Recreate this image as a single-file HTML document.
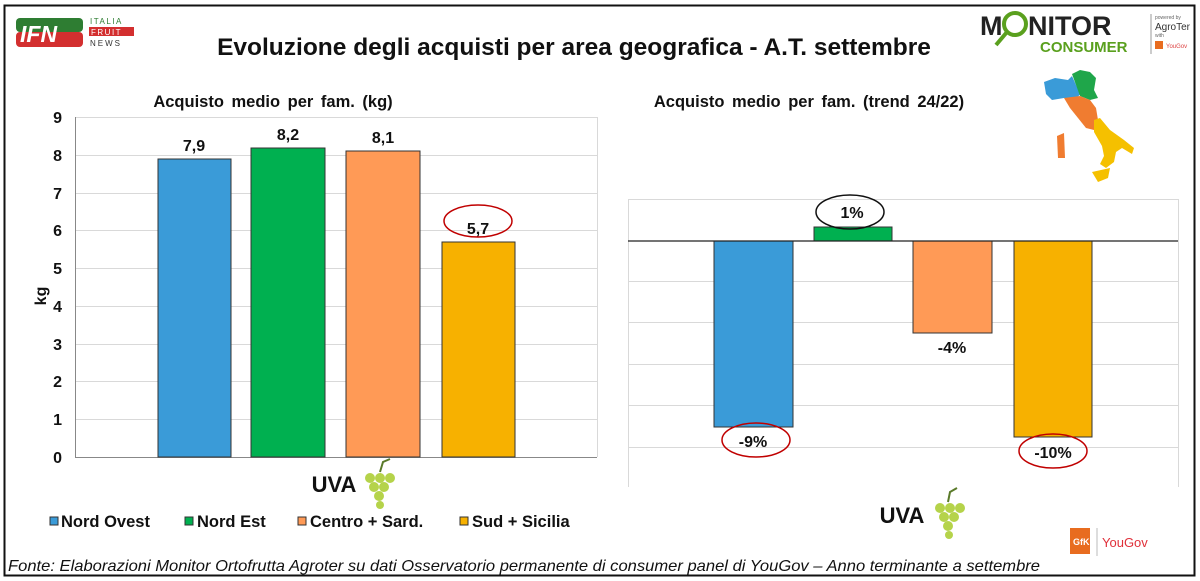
<!DOCTYPE html>
<html><head><meta charset="utf-8"><style>
html,body{margin:0;padding:0;background:#fff;}
svg{display:block;font-family:"Liberation Sans",Arial,sans-serif;}
</style></head><body>
<svg width="1200" height="581" viewBox="0 0 1200 581" xmlns="http://www.w3.org/2000/svg">
<rect x="0" y="0" width="1200" height="581" fill="#fff"/>
<rect x="4.5" y="5.5" width="1190" height="570" fill="none" stroke="#111" stroke-width="2"/>
<!-- IFN logo -->
<rect x="16" y="18" width="67" height="14" rx="4" fill="#2e7d32"/>
<rect x="16" y="32" width="67" height="15" rx="4" fill="#d32f2f"/>
<text x="20" y="42" font-size="23" font-weight="bold" fill="#fff" font-style="italic">IFN</text>
<text x="90" y="24" font-size="8" fill="#2e7d32" letter-spacing="1.5">ITALIA</text>
<rect x="89" y="27" width="45" height="9" fill="#d32f2f"/>
<text x="91" y="35" font-size="8" fill="#fff" letter-spacing="1.5">FRUIT</text>
<text x="90" y="46" font-size="8" fill="#333" letter-spacing="2">NEWS</text>
<!-- title -->
<text x="574" y="55" font-size="24.5" font-weight="bold" text-anchor="middle" fill="#111">Evoluzione degli acquisti per area geografica - A.T. settembre</text>
<!-- Monitor consumer logo -->
<text x="980" y="35" font-size="27" font-weight="bold" fill="#222">M</text>
<circle cx="1015" cy="24" r="11" fill="none" stroke="#5aa01e" stroke-width="4"/>
<line x1="1007" y1="32" x2="996" y2="45" stroke="#5aa01e" stroke-width="4"/>
<text x="1028" y="35" font-size="27" font-weight="bold" fill="#222">NITOR</text>
<text x="1040" y="52" font-size="15" font-weight="bold" fill="#5aa01e">CONSUMER</text>
<line x1="1151" y1="14" x2="1151" y2="54" stroke="#999"/>
<text x="1155" y="19" font-size="5" fill="#666">powered by</text>
<text x="1155" y="30" font-size="10" fill="#333">AgroTer</text>
<text x="1155" y="37" font-size="5" fill="#666">with</text>
<rect x="1155" y="41" width="8" height="8" fill="#e86c1f"/>
<text x="1166" y="48" font-size="6" fill="#d44">YouGov</text>
<!-- Italy map approx -->
<path d="M1044 82 L1055 78 L1068 80 L1072 76 L1080 94 L1076 100 L1064 98 L1052 100 L1046 94 Z" fill="#3a9bd8"/>
<path d="M1072 74 L1080 70 L1090 72 L1096 78 L1094 90 L1098 98 L1090 100 L1080 96 Z" fill="#1fa64a"/>
<path d="M1064 98 L1080 96 L1090 100 L1096 108 L1098 120 L1094 130 L1086 128 L1078 118 L1070 108 Z" fill="#f07c30"/>
<path d="M1057 136 L1064 133 L1065 158 L1058 158 Z" fill="#f07c30"/>
<path d="M1094 120 L1100 118 L1110 130 L1124 140 L1134 148 L1132 154 L1122 148 L1116 152 L1114 162 L1106 168 L1100 164 L1104 156 L1102 146 L1094 132 Z" fill="#f5c000"/>
<path d="M1092 172 L1110 168 L1108 178 L1098 182 Z" fill="#f5c000"/>
<!-- LEFT CHART -->
<text x="273" y="107" font-size="16.5" font-weight="bold" text-anchor="middle" fill="#111" word-spacing="3">Acquisto medio per fam. (kg)</text>
<g stroke="#d9d9d9" stroke-width="1">
<line x1="75" y1="117.5" x2="597" y2="117.5"/><line x1="75" y1="155.5" x2="597" y2="155.5"/>
<line x1="75" y1="193.5" x2="597" y2="193.5"/><line x1="75" y1="230.5" x2="597" y2="230.5"/>
<line x1="75" y1="268.5" x2="597" y2="268.5"/><line x1="75" y1="306.5" x2="597" y2="306.5"/>
<line x1="75" y1="344.5" x2="597" y2="344.5"/><line x1="75" y1="381.5" x2="597" y2="381.5"/>
<line x1="75" y1="419.5" x2="597" y2="419.5"/><line x1="597.5" y1="117" x2="597.5" y2="457"/>
</g>
<line x1="75.5" y1="117" x2="75.5" y2="457" stroke="#888"/>
<line x1="75" y1="457.5" x2="597" y2="457.5" stroke="#888"/>
<g font-size="16" font-weight="bold" fill="#111" text-anchor="end">
<text x="62" y="123">9</text><text x="62" y="161">8</text><text x="62" y="199">7</text><text x="62" y="236">6</text><text x="62" y="274">5</text><text x="62" y="312">4</text><text x="62" y="350">3</text><text x="62" y="387">2</text><text x="62" y="425">1</text><text x="62" y="463">0</text>
</g>
<text transform="translate(46,296) rotate(-90)" font-size="16" font-weight="bold" fill="#111" text-anchor="middle">kg</text>
<g stroke="#333" stroke-width="1">
<rect x="158" y="159" width="73" height="298" fill="#3a9bd8"/>
<rect x="251" y="148" width="74" height="309" fill="#00b050"/>
<rect x="346" y="151" width="74" height="306" fill="#ff9a56"/>
<rect x="442" y="242" width="73" height="215" fill="#f7b100"/>
</g>
<g font-size="16" font-weight="bold" fill="#111" text-anchor="middle">
<text x="194" y="151">7,9</text><text x="288" y="140">8,2</text><text x="383" y="143">8,1</text><text x="478" y="234">5,7</text>
</g>
<ellipse cx="478" cy="221" rx="34" ry="16" fill="none" stroke="#c00000" stroke-width="1.5"/>
<text x="334" y="492" font-size="22" font-weight="bold" fill="#111" text-anchor="middle">UVA</text>
<g fill="#b5d34a"><circle cx="370" cy="478" r="5"/><circle cx="380" cy="478" r="5"/><circle cx="390" cy="478" r="5"/><circle cx="374" cy="487" r="5"/><circle cx="384" cy="487" r="5"/><circle cx="379" cy="496" r="5"/><circle cx="380" cy="505" r="4"/></g>
<path d="M380 472 L383 462 L390 459" stroke="#5a7a2a" stroke-width="2" fill="none"/>
<g font-size="16.5" font-weight="bold" fill="#111">
<rect x="50" y="517" width="8" height="8" fill="#3a9bd8" stroke="#333"/><text x="61" y="527">Nord Ovest</text>
<rect x="185" y="517" width="8" height="8" fill="#00b050" stroke="#333"/><text x="197" y="527">Nord Est</text>
<rect x="298" y="517" width="8" height="8" fill="#ff9a56" stroke="#333"/><text x="310" y="527">Centro + Sard.</text>
<rect x="460" y="517" width="8" height="8" fill="#f7b100" stroke="#333"/><text x="472" y="527">Sud + Sicilia</text>
</g>
<text x="8" y="571" font-size="16" font-style="italic" fill="#111" textLength="1032" lengthAdjust="spacingAndGlyphs">Fonte: Elaborazioni Monitor Ortofrutta Agroter su dati Osservatorio permanente di consumer panel di YouGov – Anno terminante a settembre</text>
<!-- RIGHT CHART -->
<text x="809" y="107" font-size="16.5" font-weight="bold" text-anchor="middle" fill="#111" word-spacing="3">Acquisto medio per fam. (trend 24/22)</text>
<g stroke="#d9d9d9" stroke-width="1">
<line x1="628" y1="199.5" x2="1178" y2="199.5"/>
<line x1="628" y1="281.5" x2="1178" y2="281.5"/><line x1="628" y1="322.5" x2="1178" y2="322.5"/>
<line x1="628" y1="364.5" x2="1178" y2="364.5"/><line x1="628" y1="405.5" x2="1178" y2="405.5"/>
<line x1="628" y1="447.5" x2="1178" y2="447.5"/>
<line x1="628.5" y1="199" x2="628.5" y2="487"/><line x1="1178.5" y1="199" x2="1178.5" y2="487"/>
</g>
<g stroke="#333" stroke-width="1">
<rect x="714" y="241" width="79" height="186" fill="#3a9bd8"/>
<rect x="814" y="227" width="78" height="14" fill="#00b050"/>
<rect x="913" y="241" width="79" height="92" fill="#ff9a56"/>
<rect x="1014" y="241" width="78" height="196" fill="#f7b100"/>
</g>
<line x1="628" y1="241" x2="1178" y2="241" stroke="#222" stroke-width="1.2"/>
<g font-size="16" font-weight="bold" fill="#111" text-anchor="middle">
<text x="753" y="447">-9%</text><text x="852" y="218">1%</text><text x="952" y="353">-4%</text><text x="1053" y="458">-10%</text>
</g>
<ellipse cx="756" cy="440" rx="34" ry="17" fill="none" stroke="#c00000" stroke-width="1.5"/>
<ellipse cx="850" cy="212" rx="34" ry="17" fill="none" stroke="#111" stroke-width="1.5"/>
<ellipse cx="1053" cy="451" rx="34" ry="17" fill="none" stroke="#c00000" stroke-width="1.5"/>
<text x="902" y="523" font-size="22" font-weight="bold" fill="#111" text-anchor="middle">UVA</text>
<g fill="#b5d34a"><circle cx="940" cy="508" r="5"/><circle cx="950" cy="508" r="5"/><circle cx="960" cy="508" r="5"/><circle cx="944" cy="517" r="5"/><circle cx="954" cy="517" r="5"/><circle cx="948" cy="526" r="5"/><circle cx="949" cy="535" r="4"/></g>
<path d="M948 502 L950 492 L957 488" stroke="#5a7a2a" stroke-width="2" fill="none"/>
<!-- GfK / YouGov -->
<rect x="1070" y="528" width="20" height="26" fill="#e86c1f"/>
<text x="1073" y="545" font-size="9" font-weight="bold" fill="#fff">GfK</text>
<line x1="1097" y1="528" x2="1097" y2="556" stroke="#bbb"/>
<text x="1102" y="547" font-size="13" fill="#e0303a">YouGov</text>
</svg>
</body></html>
